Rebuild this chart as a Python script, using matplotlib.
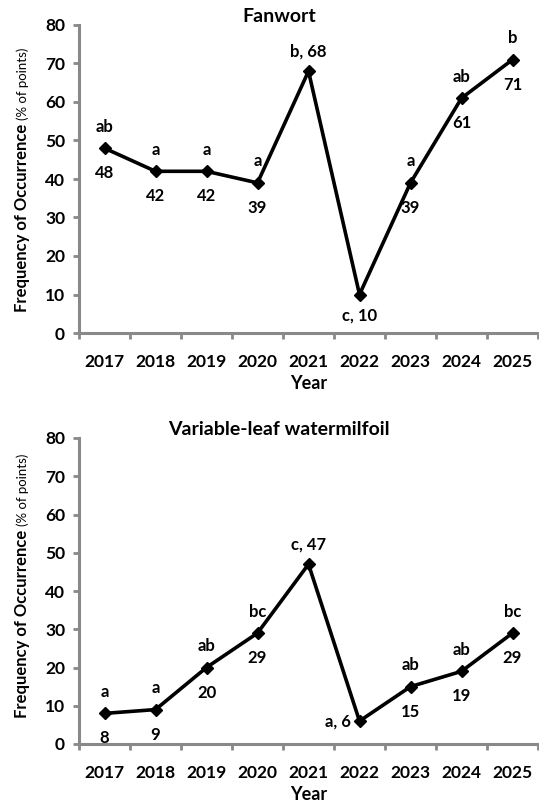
import numpy as np
import matplotlib
matplotlib.use("Agg")
import matplotlib.pyplot as plt

plt.rcParams['font.family'] = ['Lato', 'DejaVu Sans']

# дані
years = ['2017', '2018', '2019', '2020', '2021', '2022', '2023', '2024', '2025']

fanwort_vals = [48, 42, 42, 39, 68, 10, 39, 61, 71]
fanwort_letters = ['ab', 'a', 'a', 'a', 'b', 'c', 'a', 'ab', 'b']

milfoil_vals = [8, 9, 20, 29, 47, 6, 15, 19, 29]
milfoil_letters = ['a', 'a', 'ab', 'bc', 'c', 'a', 'ab', 'ab', 'bc']

# розміщення підписів: 'split' = літера над, число під; 'above', 'below', 'left' = "літера, число"
fanwort_pos = ['split', 'split', 'split', 'split', 'above', 'below', 'split', 'split', 'split']
milfoil_pos = ['split', 'split', 'split', 'split', 'above', 'left', 'split', 'split', 'split']

GRAY = '#898989'
W, H = 539, 807


def draw_panel(ax, vals, letters, pos, title):
    x = np.arange(len(years))
    ax.plot(x, vals, color='black', lw=2.6, marker='D', ms=6.5, zorder=3)

    for xi, v, let, p in zip(x, vals, letters, pos):
        kw = dict(textcoords='offset points', fontsize=12, fontweight='bold',
                  ha='center', va='center')
        if p == 'split':
            ax.annotate(let, (xi, v), xytext=(0, 15.5), **kw)
            ax.annotate(str(v), (xi, v), xytext=(0, -18), **kw)
        elif p == 'above':
            ax.annotate(f'{let}, {v}', (xi, v), xytext=(0, 14), **kw)
        elif p == 'below':
            ax.annotate(f'{let}, {v}', (xi, v), xytext=(0, -15), **kw)
        elif p == 'left':
            kw['ha'] = 'right'
            ax.annotate(f'{let}, {v}', (xi, v), xytext=(-6, 0), **kw)

    ax.set_xlim(-0.5, len(years) - 0.5)
    ax.set_ylim(0, 80)
    ax.set_yticks(range(0, 81, 10))
    ax.set_xticks(x)
    ax.set_xticklabels(years)
    ax.set_xticks(np.arange(-0.5, len(years)), minor=True)
    ax.tick_params(axis='x', which='major', length=0, pad=15, labelsize=12.5)
    ax.tick_params(axis='x', which='minor', length=4, width=2, color=GRAY, direction='out')
    ax.tick_params(axis='y', length=4, width=2, color=GRAY, pad=6, labelsize=12.5)
    for lab in ax.get_xticklabels() + ax.get_yticklabels():
        lab.set_fontweight('bold')

    for s in ['top', 'right']:
        ax.spines[s].set_visible(False)
    for s in ['left', 'bottom']:
        ax.spines[s].set_color(GRAY)
        ax.spines[s].set_linewidth(2.2)

    ax.set_xlabel('Year', fontsize=13, fontweight='bold', labelpad=4)
    ax.text(0.436, 1.0, title, transform=ax.transAxes, ha='center', va='bottom',
            fontsize=14, fontweight='bold')


fig = plt.figure(figsize=(W / 100, H / 100), dpi=100)
ax1 = fig.add_axes([79 / W, 1 - 333 / H, 459 / W, 308 / H])
ax2 = fig.add_axes([79 / W, 1 - 744 / H, 459 / W, 306 / H])

draw_panel(ax1, fanwort_vals, fanwort_letters, fanwort_pos, 'Fanwort')
draw_panel(ax2, milfoil_vals, milfoil_letters, milfoil_pos, 'Variable-leaf watermilfoil')

# підпис осі Y: жирна частина + звичайна в дужках
fig.canvas.draw()
renderer = fig.canvas.get_renderer()
for y_bottom in [312, 718]:
    t1 = fig.text(27 / W, 1 - y_bottom / H, 'Frequency of Occurrence', rotation=90,
                  rotation_mode='anchor', ha='left', va='baseline',
                  fontsize=12, fontweight='bold')
    bb = t1.get_window_extent(renderer)
    fig.text(27 / W, (bb.y1 + 4) / H, '(% of points)', rotation=90,
             rotation_mode='anchor', ha='left', va='baseline', fontsize=9.5)

fig.savefig('out.png', dpi=100)
